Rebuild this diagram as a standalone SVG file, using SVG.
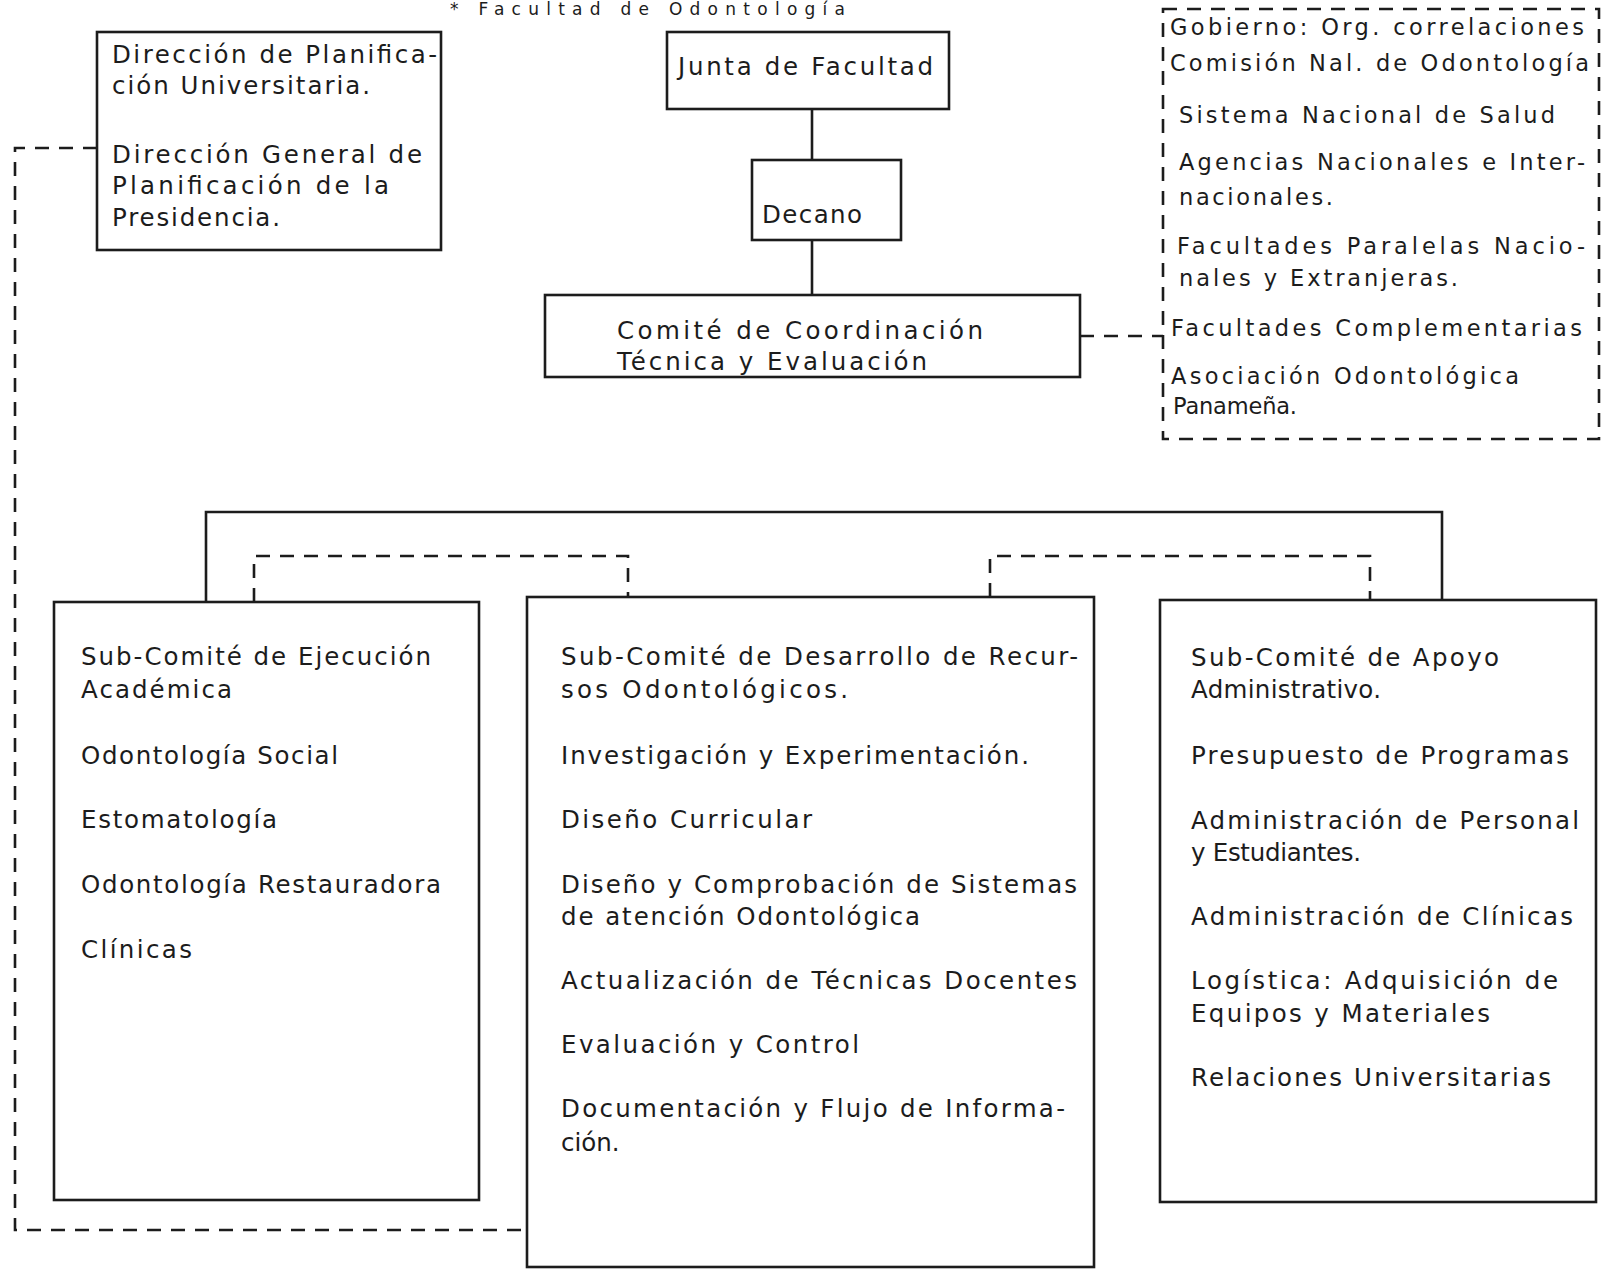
<svg xmlns="http://www.w3.org/2000/svg" width="1621" height="1277" viewBox="0 0 1621 1277">
<style>
text{font-family:"DejaVu Sans","Liberation Sans",Arial,sans-serif;font-size:24.5px;fill:#1c1c1c;}
.sm{font-size:22.5px;}
.title{font-size:17px;}
.box{fill:none;stroke:#1c1c1c;stroke-width:2.6;}
.ln{fill:none;stroke:#1c1c1c;stroke-width:2.6;}
.dash{fill:none;stroke:#1c1c1c;stroke-width:2.6;stroke-dasharray:14 10;}
</style>
<rect width="1621" height="1277" fill="#ffffff"/>
<text class="title" x="450" y="15" textLength="395" lengthAdjust="spacing">* Facultad de Odontología</text>

<g id="connectors">
  <line class="ln" x1="812" y1="109" x2="812" y2="160"/>
  <line class="ln" x1="812" y1="240" x2="812" y2="295"/>
  <polyline class="dash" points="1080,336 1163,336"/>
  <polyline class="dash" points="97,148 15,148 15,1230 527,1230"/>
  <polyline class="ln" points="206,602 206,512 1442,512 1442,600"/>
  <polyline class="dash" points="254,602 254,556 628,556 628,597"/>
  <polyline class="dash" points="990,597 990,556 1370,556 1370,600"/>
</g>

<g id="planificacion">
  <rect class="box" x="97" y="32" width="344" height="218"/>
  <text x="112" y="63" textLength="325" lengthAdjust="spacing">Dirección de Planifica-</text>
  <text x="112" y="94" textLength="258" lengthAdjust="spacing">ción Universitaria.</text>
  <text x="112" y="163" textLength="310" lengthAdjust="spacing">Dirección General  de</text>
  <text x="112" y="194" textLength="277" lengthAdjust="spacing">Planificación de  la</text>
  <text x="112" y="226" textLength="168" lengthAdjust="spacing">Presidencia.</text>
</g>

<g id="junta">
  <rect class="box" x="667" y="32" width="282" height="77"/>
  <text x="678" y="75" textLength="255" lengthAdjust="spacing">Junta de Facultad</text>
</g>

<g id="decano">
  <rect class="box" x="752" y="160" width="149" height="80"/>
  <text x="762" y="223" textLength="100" lengthAdjust="spacing">Decano</text>
</g>

<g id="comite">
  <rect class="box" x="545" y="295" width="535" height="82"/>
  <text x="617" y="339" textLength="366" lengthAdjust="spacing">Comité  de  Coordinación</text>
  <text x="617" y="370" textLength="310" lengthAdjust="spacing">Técnica y  Evaluación</text>
</g>

<g id="externos">
  <rect class="dash" x="1163" y="9" width="436" height="430"/>
  <text class="sm" x="1170" y="35" textLength="414" lengthAdjust="spacing">Gobierno: Org. correlaciones</text>
  <text class="sm" x="1170" y="71" textLength="419" lengthAdjust="spacing">Comisión Nal. de Odontología</text>
  <text class="sm" x="1179" y="123" textLength="376" lengthAdjust="spacing">Sistema Nacional de Salud</text>
  <text class="sm" x="1179" y="170" textLength="406" lengthAdjust="spacing">Agencias Nacionales e Inter-</text>
  <text class="sm" x="1179" y="205" textLength="154" lengthAdjust="spacing">nacionales.</text>
  <text class="sm" x="1177" y="254" textLength="408" lengthAdjust="spacing">Facultades Paralelas Nacio-</text>
  <text class="sm" x="1179" y="286" textLength="279" lengthAdjust="spacing">nales y Extranjeras.</text>
  <text class="sm" x="1171" y="336" textLength="411" lengthAdjust="spacing">Facultades Complementarias</text>
  <text class="sm" x="1171" y="384" textLength="348" lengthAdjust="spacing">Asociación Odontológica</text>
  <text class="sm" x="1173" y="414" textLength="124" lengthAdjust="spacing">Panameña.</text>
</g>

<g id="ejecucion">
  <rect class="box" x="54" y="602" width="425" height="598"/>
  <text x="81" y="665" textLength="350" lengthAdjust="spacing">Sub-Comité de Ejecución</text>
  <text x="81" y="698" textLength="151" lengthAdjust="spacing">Académica</text>
  <text x="81" y="764" textLength="257" lengthAdjust="spacing">Odontología Social</text>
  <text x="81" y="828" textLength="196" lengthAdjust="spacing">Estomatología</text>
  <text x="81" y="893" textLength="360" lengthAdjust="spacing">Odontología Restauradora</text>
  <text x="81" y="958" textLength="111" lengthAdjust="spacing">Clínicas</text>
</g>

<g id="desarrollo">
  <rect class="box" x="527" y="597" width="567" height="670"/>
  <text x="561" y="665" textLength="517" lengthAdjust="spacing">Sub-Comité de Desarrollo de Recur-</text>
  <text x="561" y="698" textLength="287" lengthAdjust="spacing">sos Odontológicos.</text>
  <text x="561" y="764" textLength="468" lengthAdjust="spacing">Investigación y Experimentación.</text>
  <text x="561" y="828" textLength="251" lengthAdjust="spacing">Diseño Curricular</text>
  <text x="561" y="893" textLength="516" lengthAdjust="spacing">Diseño y Comprobación de Sistemas</text>
  <text x="561" y="925" textLength="359" lengthAdjust="spacing">de atención Odontológica</text>
  <text x="561" y="989" textLength="516" lengthAdjust="spacing">Actualización de Técnicas Docentes</text>
  <text x="561" y="1053" textLength="298" lengthAdjust="spacing">Evaluación y Control</text>
  <text x="561" y="1117" textLength="504" lengthAdjust="spacing">Documentación y Flujo de Informa-</text>
  <text x="561" y="1151">ción.</text>
</g>

<g id="apoyo">
  <rect class="box" x="1160" y="600" width="436" height="602"/>
  <text x="1191" y="666" textLength="308" lengthAdjust="spacing">Sub-Comité de Apoyo</text>
  <text x="1191" y="698" textLength="190" lengthAdjust="spacing">Administrativo.</text>
  <text x="1191" y="764" textLength="378" lengthAdjust="spacing">Presupuesto de Programas</text>
  <text x="1191" y="829" textLength="388" lengthAdjust="spacing">Administración de Personal</text>
  <text x="1191" y="861" textLength="170" lengthAdjust="spacing">y Estudiantes.</text>
  <text x="1191" y="925" textLength="382" lengthAdjust="spacing">Administración de Clínicas</text>
  <text x="1191" y="989" textLength="367" lengthAdjust="spacing">Logística: Adquisición  de</text>
  <text x="1191" y="1022" textLength="299" lengthAdjust="spacing">Equipos y Materiales</text>
  <text x="1191" y="1086" textLength="360" lengthAdjust="spacing">Relaciones Universitarias</text>
</g>
</svg>
